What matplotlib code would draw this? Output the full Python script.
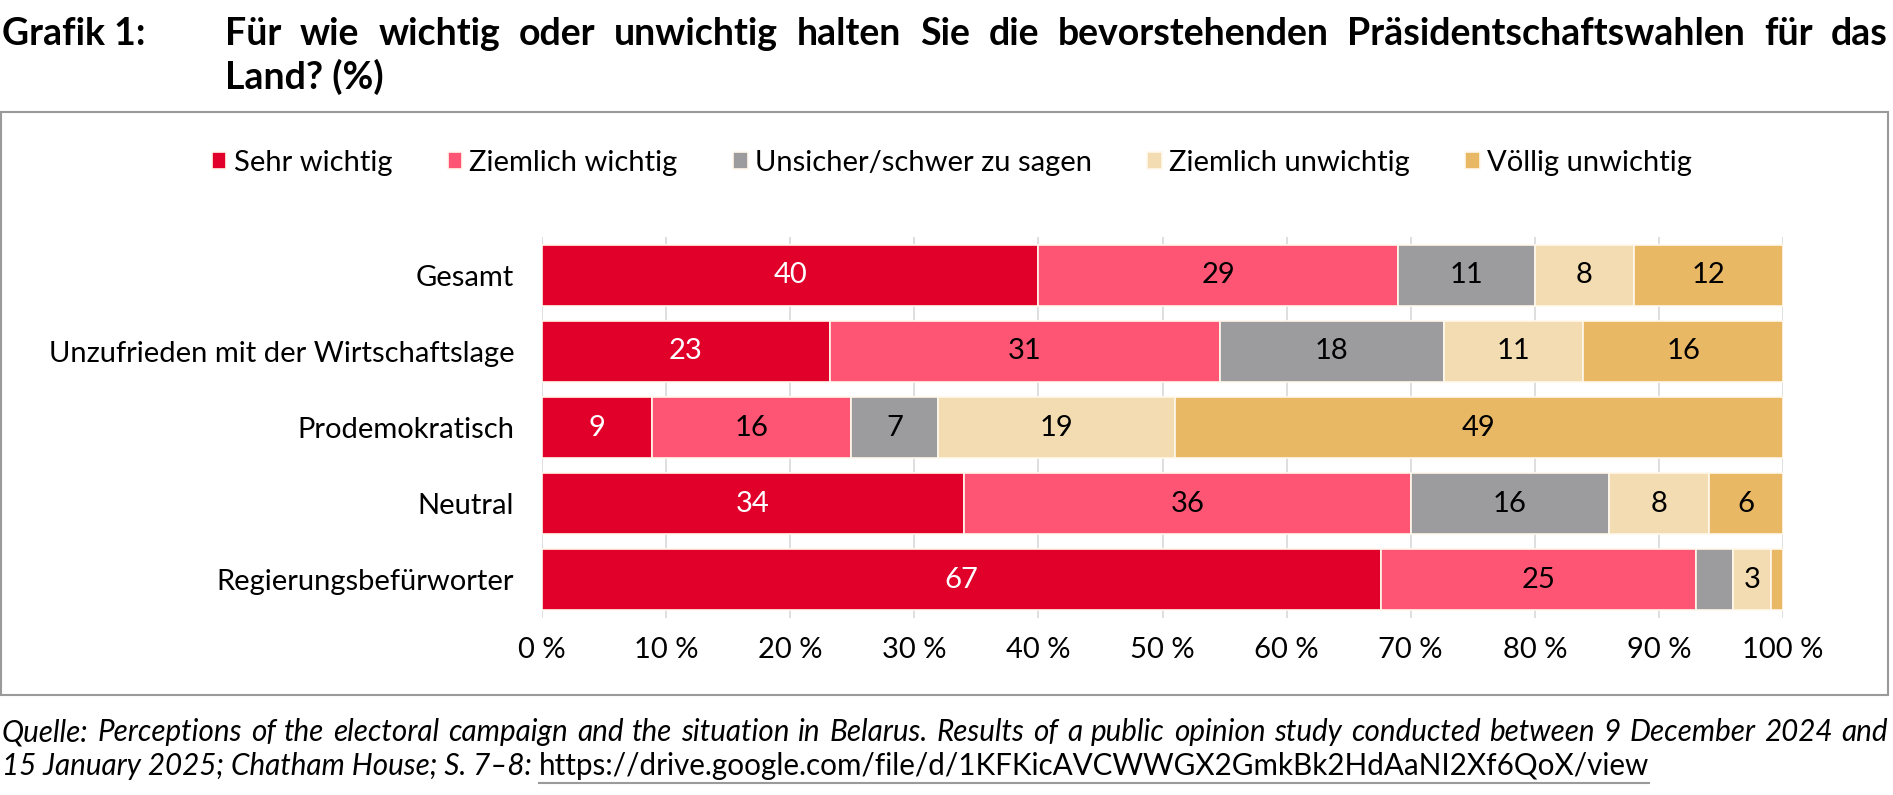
import matplotlib
matplotlib.use("Agg")
import matplotlib.pyplot as plt
from matplotlib.patches import Rectangle
import numpy as np

plt.rcParams["font.family"] = ["Lato", "DejaVu Sans"]

categories = ["Gesamt", "Unzufrieden mit der Wirtschaftslage", "Prodemokratisch",
              "Neutral", "Regierungsbefürworter"]
series = ["Sehr wichtig", "Ziemlich wichtig", "Unsicher/schwer zu sagen",
          "Ziemlich unwichtig", "Völlig unwichtig"]
colors = ["#E1002A", "#FF5574", "#9C9C9E", "#F3DCB1", "#E8B865"]
text_colors = ["white", "black", "black", "black", "black"]

sehr_wichtig = [40.0, 23.2, 8.9, 34.0, 67.6]
ziemlich_wichtig = [29.0, 31.4, 16.0, 36.0, 25.4]
unsicher = [11.0, 18.1, 7.0, 16.0, 3.0]
ziemlich_unwichtig = [8.0, 11.2, 19.1, 8.0, 3.0]
voellig_unwichtig = [12.0, 16.1, 49.0, 6.0, 1.0]

labels = [
    ["40", "23", "9", "34", "67"],
    ["29", "31", "16", "36", "25"],
    ["11", "18", "7", "16", ""],
    ["8", "11", "19", "8", "3"],
    ["12", "16", "49", "6", ""],
]
values = [sehr_wichtig, ziemlich_wichtig, unsicher, ziemlich_unwichtig, voellig_unwichtig]
xticks = [0, 10, 20, 30, 40, 50, 60, 70, 80, 90, 100]

title = "Für wie wichtig oder unwichtig halten Sie die bevorstehenden Präsidentschaftswahlen für das"
title2 = "Land? (%)"
src1 = ("Quelle: Perceptions of the electoral campaign and the situation in Belarus. "
        "Results of a public opinion study conducted between 9 December 2024 and")
src2 = "15 January 2025; Chatham House; S. 7–8: "
link = "https://drive.google.com/file/d/1KFKicAVCWWGX2GmkBk2HdAaNI2Xf6QoX/view"

W, H = 1893, 795
FS = 21
TFS = 27
SFS = 21.3
fig = plt.figure(figsize=(W / 100, H / 100), dpi=100)
fig.patch.set_facecolor("white")

# frame around the chart area
fig.add_artist(Rectangle((1 / W, 1 - 695 / H), 1887 / W, 583 / H, transform=fig.transFigure,
                         facecolor="none", edgecolor="#9a9a9a", lw=1.5))

ax = fig.add_axes([542 / W, 1 - 618 / H, 1241 / W, 381 / H])
y = np.arange(len(categories))
left = np.zeros(len(categories))
for vals, col, tc, labs, name in zip(values, colors, text_colors, labels, series):
    vals = np.array(vals)
    ax.barh(y, vals, left=left, height=0.8, color=col, edgecolor="#FFF8EC", lw=1.2,
            label=name, zorder=3)
    for yi, (l, v, t) in enumerate(zip(left, vals, labs)):
        if t:
            ax.text(l + v / 2, yi, t, ha="center", va="center", color=tc, fontsize=FS, zorder=4)
    left = left + vals

ax.set_xlim(0, 100)
ax.set_ylim(4.5, -0.5)
ax.set_yticks(y)
ax.set_yticklabels(categories, fontsize=FS)
ax.set_xticks(xticks)
ax.set_xticklabels([f"{t} %" for t in xticks], fontsize=FS)
ax.tick_params(length=0)
ax.tick_params(axis="y", pad=20)
ax.tick_params(axis="x", pad=14)
ax.grid(axis="x", color="#d9d9d9", lw=1.2, zorder=0)
for s in ax.spines.values():
    s.set_visible(False)

handles, hl = ax.get_legend_handles_labels()
fig.legend(handles, hl, loc="center", bbox_to_anchor=(952 / W, 1 - 163 / H), ncol=5,
           frameon=False, fontsize=FS, handlelength=0.5, handleheight=0.5,
           handletextpad=0.25, columnspacing=1.9)

r = fig.canvas.get_renderer()


def justify(words, x0, x1, yb, **kw):
    arts = [fig.text(0, yb, w, va="baseline", **kw) for w in words]
    widths = [a.get_window_extent(r).width for a in arts]
    gap = ((x1 - x0) - sum(widths)) / (len(words) - 1)
    x = x0
    for a, w in zip(arts, widths):
        a.set_x(x / W)
        x += w + gap


fig.text(2 / W, 1 - 45 / H, "Grafik 1:", fontsize=TFS, fontweight="bold", va="baseline")
justify(title.split(" "), 225, 1888, 1 - 45 / H, fontsize=TFS, fontweight="bold")
fig.text(225 / W, 1 - 89 / H, title2, fontsize=TFS, fontweight="bold", va="baseline")

justify(src1.split(" "), 2, 1888, 1 - 741 / H, fontsize=SFS, style="italic")
t2 = fig.text(2 / W, 1 - 775 / H, src2, fontsize=SFS, style="italic", va="baseline")
w2 = t2.get_window_extent(r).width
lk = fig.text((2 + w2) / W, 1 - 775 / H, link, fontsize=SFS, va="baseline")
wl = lk.get_window_extent(r).width
fig.add_artist(plt.Line2D([(2 + w2) / W, (2 + w2 + wl) / W], [1 - 783 / H] * 2,
                          transform=fig.transFigure, color="#9a9a9a", lw=1.5))

fig.savefig("out.png", dpi=100)
